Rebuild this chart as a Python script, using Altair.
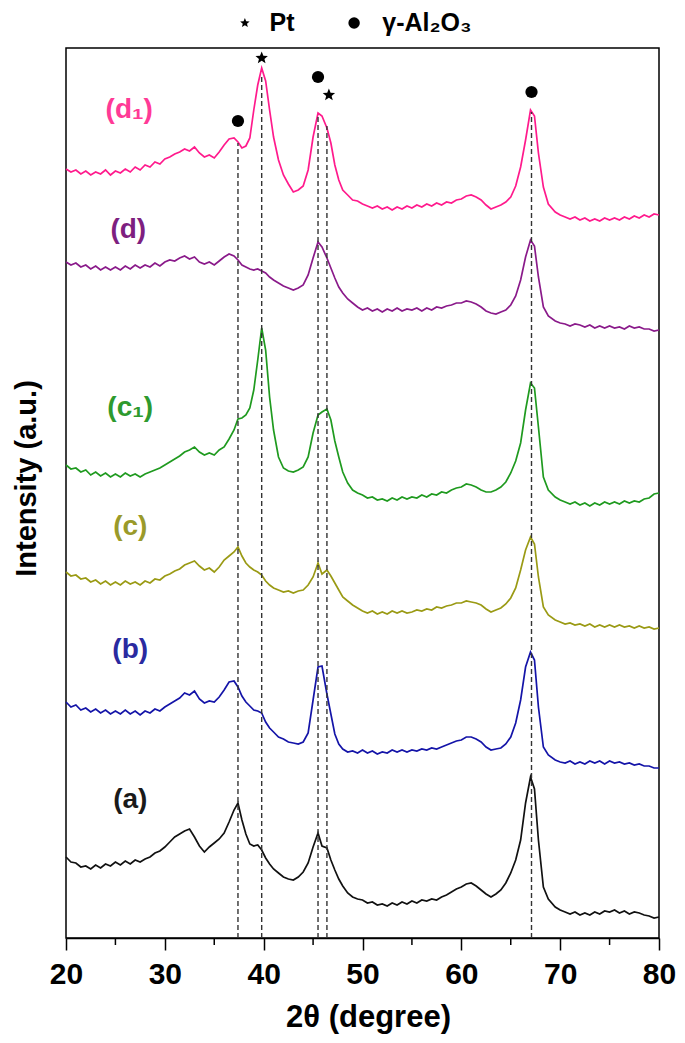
import altair as alt
import pandas as pd

# 2-theta grid (degrees)
X = [20.0, 20.5, 21.0, 21.5, 22.0, 22.5, 23.0, 23.5, 24.0, 24.5,
     25.0, 25.5, 26.0, 26.5, 27.0, 27.5, 28.0, 28.5, 29.0, 29.5,
     30.0, 30.5, 31.0, 31.5, 32.0, 32.5, 33.0, 33.5, 34.0, 34.5,
     35.0, 35.5, 36.0, 36.5, 37.0,
     37.4, 37.8, 38.2, 38.6, 39.0, 39.4, 39.8, 40.2, 40.6, 41.0,
     41.5, 42.0, 42.5, 43.0, 43.5, 44.0, 44.5, 45.0, 45.5,
     45.9, 46.4, 46.8, 47.2, 47.6,
     48.0, 48.5, 49.0, 49.5, 50.0, 50.5, 51.0, 51.5, 52.0, 52.5,
     53.0, 53.5, 54.0, 54.5, 55.0, 55.5, 56.0, 56.5, 57.0, 57.5,
     58.0, 58.5, 59.0, 59.5, 60.0, 60.5, 61.0, 61.5, 62.0, 62.5,
     63.0, 63.5, 64.0, 64.5, 65.0, 65.5, 66.0, 66.5,
     67.0, 67.4, 67.8, 68.3, 68.8,
     69.5, 70.0, 70.5, 71.0, 71.5, 72.0, 72.5, 73.0, 73.5, 74.0,
     74.5, 75.0, 75.5, 76.0, 76.5, 77.0, 77.5, 78.0, 78.5, 79.0,
     79.5, 80.0]

# stacked intensities (a.u.)
D1 = [769, 766, 768, 764, 767, 763, 766, 764, 768, 763,
      767, 765, 769, 766, 771, 768, 773, 771, 776, 774,
      779, 781, 784, 786, 789, 787, 791, 785, 781, 783,
      780, 786, 793, 799, 800,
      796, 790, 792, 800, 828, 853, 870, 857, 828, 801,
      778, 763, 754, 746, 748, 752, 768, 801, 825,
      822, 810, 795, 773, 758,
      748, 743, 738, 737, 734, 732, 730, 732, 729, 731,
      728, 731, 729, 732, 730, 733, 731, 734, 732, 735,
      733, 736, 735, 738, 739, 742, 743, 741, 738, 733,
      729, 731, 733, 736, 741, 752, 771, 798,
      828, 822, 785, 751, 734,
      726, 723, 721, 719, 721, 718, 720, 717, 719, 717,
      720, 718, 720, 718, 721, 719, 722, 720, 723, 721,
      724, 723]

D = [676, 673, 675, 671, 673, 669, 672, 668, 671, 668,
     671, 668, 672, 669, 673, 670, 673, 671, 675, 672,
     676, 678, 677, 680, 682, 679, 681, 676, 674, 676,
     673, 677, 681, 684, 682,
     678, 673, 671, 669, 668, 669, 667, 665, 661, 658,
     655, 652, 650, 648, 650, 653, 663, 680, 696,
     691, 680, 670, 660, 651,
     645, 639, 635, 631, 628, 630, 627, 629, 626, 629,
     627, 630, 627, 629, 628, 630, 627, 630, 628, 631,
     630, 632, 633, 635, 635, 637, 636, 634, 631, 627,
     625, 624, 626, 628, 633, 642, 658, 681,
     698, 692, 661, 631, 622,
     617, 615, 614, 612, 614, 613, 611, 613, 610, 612,
     610, 612, 610, 611, 609, 612, 610, 611, 609, 609,
     607, 608]

C1 = [473, 469, 470, 466, 468, 463, 466, 462, 465, 461,
      464, 461, 465, 462, 464, 461, 464, 466, 468, 470,
      473, 476, 479, 482, 486, 488, 491, 486, 483, 485,
      483, 488, 491, 499, 508,
      519, 520, 523, 530, 548, 578, 610, 588, 541, 508,
      481, 470, 467, 466, 468, 471, 481, 505, 523,
      526, 529, 518, 497, 481,
      466, 455, 448, 445, 443, 440, 441, 438, 439, 437,
      440, 438, 441, 439, 441, 440, 443, 441, 444, 443,
      446, 445, 448, 450, 451, 454, 453, 451, 448, 446,
      446, 448, 451, 456, 465, 477, 495, 528,
      555, 550, 511, 461, 448,
      441, 438, 436, 434, 436, 433, 435, 432, 435, 433,
      436, 434, 436, 434, 437, 435, 437, 436, 439, 440,
      444, 445]

C = [366, 362, 363, 359, 360, 356, 358, 354, 357, 353,
     356, 353, 357, 354, 356, 353, 357, 355, 359, 358,
     362, 364, 367, 369, 373, 375, 377, 372, 368, 370,
     366, 371, 378, 382, 386,
     391, 382, 375, 371, 368, 366, 363, 357, 353, 350,
     348, 346, 347, 345, 347, 348, 353, 361, 375,
     364, 368, 362, 355, 348,
     341, 337, 333, 330, 327, 325, 327, 324, 326, 324,
     327, 325, 327, 325, 326, 328, 327, 329, 328, 331,
     330, 332, 333, 335, 335, 337, 336, 335, 333, 329,
     326, 328, 330, 334, 340, 350, 368, 388,
     401, 394, 361, 331, 323,
     318, 316, 314, 315, 313, 314, 312, 314, 311, 313,
     311, 313, 311, 313, 311, 312, 310, 312, 310, 311,
     309, 310]

B = [236, 231, 233, 228, 230, 226, 229, 225, 228, 224,
     227, 224, 228, 224, 227, 223, 227, 225, 229, 227,
     231, 234, 237, 240, 245, 243, 247, 239, 235, 237,
     236, 241, 248, 256, 257,
     251, 242, 236, 232, 228, 227, 225, 216, 210, 206,
     201, 199, 196, 195, 194, 196, 205, 238, 271,
     272, 244, 224, 204, 194,
     189, 186, 187, 185, 188, 185, 187, 184, 186, 185,
     188, 186, 188, 186, 188, 187, 189, 188, 190, 189,
     191, 193, 195, 197, 198, 201, 201, 199, 196, 191,
     188, 189, 190, 194, 201, 215, 238, 271,
     286, 278, 231, 191, 183,
     178, 176, 175, 177, 174, 176, 174, 177, 175, 177,
     174, 177, 175, 176, 174, 175, 173, 174, 172, 172,
     170, 170]

A = [81, 76, 75, 71, 72, 69, 73, 70, 74, 72,
     76, 73, 77, 74, 78, 76, 79, 81, 85, 87,
     91, 96, 101, 104, 107, 109, 101, 92, 86, 91,
     95, 99, 105, 116, 128,
     135, 118, 104, 94, 92, 93, 88, 80, 74, 69,
     65, 61, 59, 58, 61, 66, 75, 91, 105,
     92, 90, 78, 68, 59,
     52, 45, 41, 39, 38, 35, 36, 33, 34, 32,
     35, 33, 36, 34, 37, 35, 38, 37, 39, 38,
     41, 43, 46, 49, 51, 54, 55, 52, 48, 44,
     41, 44, 48, 55, 65, 78, 98, 135,
     161, 149, 98, 51, 39,
     31, 28, 26, 24, 26, 23, 25, 23, 26, 24,
     27, 26, 28, 25, 27, 24, 26, 25, 23, 22,
     20, 21]

SERIES = ["(a)", "(b)", "(c)", "(c₁)", "(d)", "(d₁)"]
SERIES_VALUES = [A, B, C, C1, D, D1]
LINE_COLORS = ["#111111", "#1414a8", "#9a9a14", "#1f9a1f", "#8a1a8a", "#ff1a8c"]
LABEL_COLORS = ["#1a1a1a", "#2a2aa0", "#9a9a2a", "#2e9a2e", "#7e1f80", "#ff3a96"]
LABEL_X = [26.5, 26.5, 26.5, 26.5, 26.3, 26.4]
LABEL_Y = [138, 288, 411, 530, 708, 828]

# reference peak positions
PEAK_X = [37.4, 39.8, 45.5, 46.4, 67.1]
PEAK_TOP = [795, 862, 822, 812, 826]
DOT_X = [37.4, 45.5, 67.1]
DOT_Y = [817, 861, 846]
STAR_X = [39.8, 46.6]
STAR_Y = [880, 843]
MINOR_TICKS = [25, 35, 45, 55, 65, 75]
MAJOR_TICKS = [20, 30, 40, 50, 60, 70, 80]

STAR = ("M0,-1L0.26,-0.36L0.95,-0.31L0.42,0.14L0.59,0.81L0,0.44"
        "L-0.59,0.81L-0.42,0.14L-0.95,-0.31L-0.26,-0.36Z")
FONT = "Liberation Sans"

rows = []
for name, vals in zip(SERIES, SERIES_VALUES):
    assert len(vals) == len(X), (name, len(vals), len(X))
    for x, v in zip(X, vals):
        rows.append({"theta": x, "intensity": v, "series": name})
df = pd.DataFrame(rows)

W, H = 593, 890
xscale = alt.Scale(domain=[20, 80], nice=False, zero=False)
yscale = alt.Scale(domain=[0, 890], nice=False, zero=False)

xaxis = alt.Axis(values=MAJOR_TICKS, title="2θ (degree)", grid=False,
                 labelFont=FONT, labelFontSize=30, labelFontWeight="bold",
                 labelColor="black", labelPadding=9, labelFlush=False,
                 labelOverlap=False,
                 tickSize=12, tickWidth=1.5, tickColor="black",
                 domainColor="black", domainWidth=1.5,
                 titleFont=FONT, titleFontSize=31, titleFontWeight="bold",
                 titleColor="black", titleX=302, titleY=88,
                 titleBaseline="alphabetic", titleAlign="center")
yaxis = alt.Axis(title="Intensity (a.u.)", labels=False, ticks=False,
                 domain=False, grid=False,
                 titleFont=FONT, titleFontSize=29, titleFontWeight="bold",
                 titleColor="black", titleX=-31, titleY=430, titleAngle=-90,
                 titleBaseline="alphabetic", titleAlign="center")

lines = alt.Chart(df).mark_line(strokeWidth=1.7).encode(
    x=alt.X("theta:Q", scale=xscale, axis=xaxis),
    y=alt.Y("intensity:Q", scale=yscale, axis=yaxis),
    color=alt.Color("series:N", scale=alt.Scale(domain=SERIES, range=LINE_COLORS), legend=None),
)

rules_df = pd.DataFrame({"theta": PEAK_X, "top": PEAK_TOP, "base": [0] * len(PEAK_X)})
rules = alt.Chart(rules_df).mark_rule(strokeDash=[5, 3], color="#333333", strokeWidth=1.4).encode(
    x="theta:Q", y="base:Q", y2="top:Q")

dots = alt.Chart(pd.DataFrame({"theta": DOT_X, "intensity": DOT_Y})).mark_point(
    shape="circle", filled=True, color="black", opacity=1, size=150).encode(
    x="theta:Q", y="intensity:Q")
stars = alt.Chart(pd.DataFrame({"theta": STAR_X, "intensity": STAR_Y})).mark_point(
    shape=STAR, filled=True, color="black", opacity=1, size=170).encode(
    x="theta:Q", y="intensity:Q")

labels_df = pd.DataFrame({"theta": LABEL_X, "intensity": LABEL_Y, "text": SERIES,
                          "lc": LABEL_COLORS})
labels = alt.Chart(labels_df).mark_text(font=FONT, fontSize=28, fontWeight="bold",
                                        align="center", baseline="middle").encode(
    x="theta:Q", y="intensity:Q", text="text:N", color=alt.Color("lc:N", scale=None))

minor = alt.Chart(pd.DataFrame({"theta": MINOR_TICKS})).mark_rule(
    color="black", strokeWidth=1.5).encode(
    x="theta:Q", y=alt.value(H), y2=alt.value(H + 7))

# legend above the frame
LEG_Y = 915
leg_star = alt.Chart(pd.DataFrame({"theta": [38.1], "intensity": [LEG_Y]})).mark_point(
    shape=STAR, filled=True, color="black", opacity=1, size=100).encode(
    x="theta:Q", y="intensity:Q")
leg_dot = alt.Chart(pd.DataFrame({"theta": [49.15], "intensity": [LEG_Y]})).mark_point(
    shape="circle", filled=True, color="black", opacity=1, size=130).encode(
    x="theta:Q", y="intensity:Q")
leg_text = alt.Chart(pd.DataFrame({"theta": [40.6, 52.0], "intensity": [LEG_Y, LEG_Y],
                                   "text": ["Pt", "γ-Al₂O₃"]})).mark_text(
    font=FONT, fontSize=25, fontWeight="bold", align="left", baseline="middle",
    color="black").encode(x="theta:Q", y="intensity:Q", text="text:N")

chart = alt.layer(lines, rules, dots, stars, labels, minor, leg_star, leg_dot, leg_text).properties(
    width=W, height=H,
    autosize=alt.AutoSizeParams(type="none"),
    padding={"left": 58, "top": 40, "right": 18, "bottom": 97},
    background="white",
).configure_view(stroke="black", strokeWidth=1.5)

chart.save("out.html", embed_options={"renderer": "svg", "actions": False})
